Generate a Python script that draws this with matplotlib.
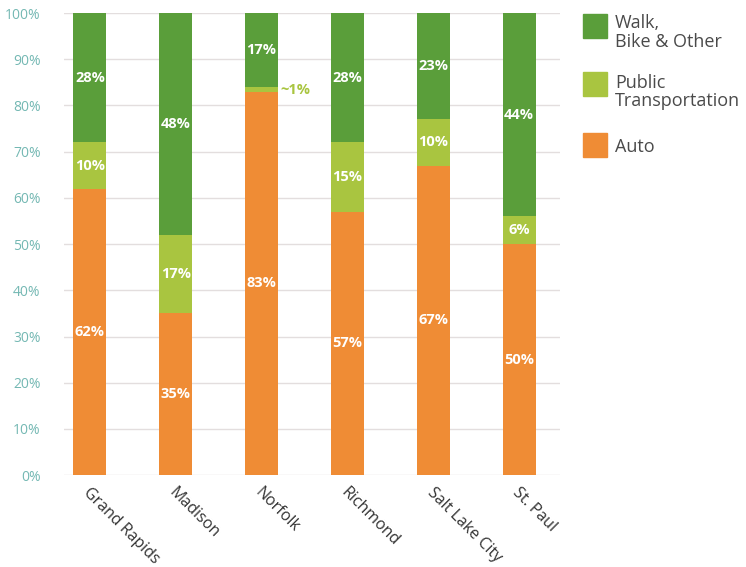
import numpy as np
import matplotlib.pyplot as plt
from matplotlib.patches import Rectangle

plt.rcParams['font.family'] = ['Open Sans', 'DejaVu Sans']

cities = ['Grand Rapids', 'Madison', 'Norfolk', 'Richmond', 'Salt Lake City', 'St. Paul']
auto = [62, 35, 83, 57, 67, 50]
public = [10, 17, 1, 15, 10, 6]
walk = [28, 48, 17, 28, 23, 44]
public_labels = ['10%', '17%', '~1%', '15%', '10%', '6%']

c_walk = '#5a9e3a'
c_public = '#a9c540'
c_auto = '#ef8c35'

fig = plt.figure(figsize=(7.46, 5.67), dpi=100)
ax = fig.add_axes([0.086, 0.162, 0.665, 0.815])

x = np.arange(len(cities))
bw = 0.385
auto = np.array(auto)
public = np.array(public)
walk = np.array(walk)

ax.bar(x, auto, bw, color=c_auto)
ax.bar(x, public, bw, bottom=auto, color=c_public)
ax.bar(x, walk, bw, bottom=auto + public, color=c_walk)

lab = dict(color='white', fontsize=10.5, fontweight='bold', ha='center', va='center')
for i in x:
    ax.text(i, auto[i] / 2, f'{auto[i]}%', **lab)
    top = min(auto[i] + public[i] + walk[i], 100)
    ax.text(i, (auto[i] + public[i] + top) / 2, f'{walk[i]}%', **lab)
    if public[i] >= 5:
        ax.text(i, auto[i] + public[i] / 2, public_labels[i], **lab)
    else:
        # too thin for an inside label
        ax.text(i + bw / 2 + 0.03, auto[i] + public[i] / 2 - 0.2, public_labels[i],
                color=c_public, fontsize=10.5, fontweight='bold', ha='left', va='center')

ax.set_xlim(-0.3, 5.48)
ax.set_ylim(0, 100)
ax.set_yticks(range(0, 101, 10))
ax.set_yticklabels([f'{v}%' for v in range(0, 101, 10)])
ax.yaxis.grid(True, color='#e3dede', linewidth=1)
ax.set_axisbelow(True)
for s in ax.spines.values():
    s.set_visible(False)
ax.tick_params(axis='y', length=0, pad=17, labelsize=10, labelcolor='#74b8b3')
ax.tick_params(axis='x', length=0, pad=7)
ax.set_xticks(x + 0.02)
ax.set_xticklabels(cities, rotation=-45, ha='left', va='top', rotation_mode='anchor',
                   fontsize=11.5, color='#333333')

# legend: colour squares with one text line each
H = 567
squares = [(c_walk, 14), (c_public, 72), (c_auto, 133)]
for col, ytop in squares:
    fig.patches.append(Rectangle((583 / 746, 1 - (ytop + 24) / H), 24 / 746, 24 / H,
                                 transform=fig.transFigure, color=col))
lines = [('Walk,', 28), ('Bike & Other', 47), ('Public', 88), ('Transportation', 106),
         ('Auto', 152)]
for txt, base in lines:
    fig.text(615 / 746, 1 - base / H, txt, fontsize=13, color='#4a4a4a',
             va='baseline', ha='left')

fig.savefig('out.png', dpi=100)
